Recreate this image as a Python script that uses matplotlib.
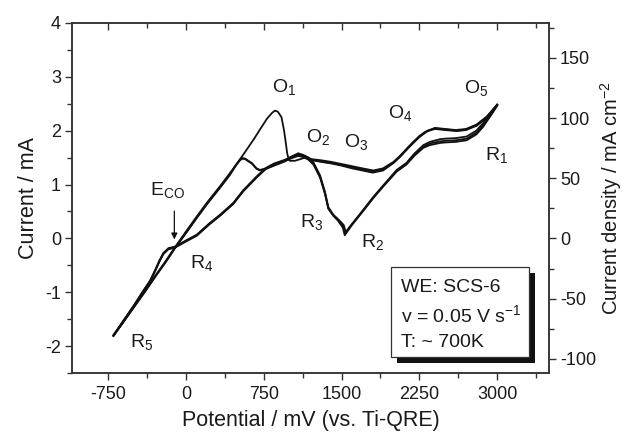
import matplotlib
matplotlib.use("Agg")
import matplotlib.pyplot as plt
from matplotlib.patches import Rectangle
from matplotlib.ticker import MultipleLocator

plt.rcParams['font.family'] = ['Liberation Sans', 'DejaVu Sans']
plt.rcParams['mathtext.default'] = 'regular'
plt.rcParams['axes.unicode_minus'] = False

# ---- data (potential in mV, current in mA) ----
E_f1 = [-700, -600, -500, -400, -300, -200, -106, 0, 100, 200, 328, 450, 550, 650, 713, 780, 830, 858, 885,
        920, 945, 960, 975, 990, 1000, 1050, 1100, 1150, 1200, 1300, 1400, 1500, 1600, 1700, 1800, 1900,
        2000, 2100, 2200, 2300, 2400, 2500, 2600, 2700, 2800, 2900, 3000]
I_f1 = [-1.80, -1.53, -1.25, -0.98, -0.70, -0.43, -0.16, 0.13, 0.40, 0.66, 0.97, 1.28, 1.55, 1.83, 2.02, 2.22,
        2.33, 2.37, 2.35, 2.25, 2.00, 1.80, 1.58, 1.46, 1.44, 1.44, 1.47, 1.50, 1.46, 1.42, 1.39, 1.35, 1.30,
        1.26, 1.22, 1.26, 1.40, 1.60, 1.80, 1.97, 2.05, 2.03, 2.01, 2.03, 2.11, 2.26, 2.48]

E_f2 = [-700, -600, -500, -400, -300, -200, -106, 0, 100, 200, 328, 420, 480, 520, 546, 570, 600, 633, 680,
        713, 771, 850, 955, 1020, 1083, 1150, 1211, 1300, 1400, 1500, 1600, 1700, 1806, 1900, 2000, 2063,
        2150, 2250, 2330, 2400, 2500, 2610, 2700, 2803, 2900, 3000]
I_f2 = [-1.80, -1.53, -1.26, -0.99, -0.71, -0.44, -0.17, 0.11, 0.38, 0.64, 0.95, 1.18, 1.36, 1.46, 1.49, 1.48,
        1.44, 1.40, 1.30, 1.27, 1.30, 1.36, 1.44, 1.52, 1.58, 1.52, 1.47, 1.45, 1.42, 1.38, 1.34, 1.30, 1.26,
        1.30, 1.42, 1.53, 1.71, 1.90, 2.00, 2.04, 2.02, 2.00, 2.02, 2.10, 2.25, 2.48]

E_f3 = [-700, -600, -500, -400, -300, -200, -106, 0, 100, 200, 328, 420, 480, 520, 546, 570, 600, 633, 680,
        713, 771, 850, 955, 1020, 1083, 1150, 1211, 1300, 1400, 1500, 1600, 1700, 1806, 1900, 2000, 2063,
        2150, 2250, 2330, 2400, 2500, 2610, 2700, 2803, 2900, 3000]
I_f3 = [-1.80, -1.54, -1.27, -1.00, -0.72, -0.45, -0.18, 0.10, 0.37, 0.63, 0.94, 1.17, 1.35, 1.45, 1.48, 1.47,
        1.43, 1.39, 1.29, 1.26, 1.29, 1.35, 1.43, 1.50, 1.55, 1.50, 1.45, 1.43, 1.40, 1.36, 1.32, 1.28, 1.24,
        1.28, 1.40, 1.51, 1.69, 1.88, 1.99, 2.03, 2.01, 1.99, 2.01, 2.09, 2.24, 2.47]

E_r1 = [3000, 2950, 2900, 2865, 2800, 2706, 2600, 2500, 2449, 2350, 2288, 2200, 2125, 2031, 1900, 1806, 1700,
        1600, 1533, 1517, 1468, 1420, 1372, 1340, 1292, 1228, 1180, 1130, 1083, 1020, 955, 850, 771, 681, 550,
        456, 328, 231, 103, 6, -60, -106, -170, -219, -257, -299, -347, -420, -500, -600, -700]
I_r1 = [2.48, 2.36, 2.24, 2.14, 2.00, 1.89, 1.86, 1.85, 1.84, 1.79, 1.73, 1.57, 1.40, 1.27, 0.98, 0.77, 0.51,
        0.26, 0.09, 0.22, 0.34, 0.43, 0.56, 0.84, 1.15, 1.39, 1.48, 1.53, 1.55, 1.50, 1.45, 1.38, 1.30, 1.14,
        0.88, 0.65, 0.43, 0.28, 0.06, -0.04, -0.11, -0.16, -0.19, -0.28, -0.42, -0.60, -0.79, -1.00, -1.24,
        -1.52, -1.80]

E_r2 = [3000, 2950, 2900, 2865, 2800, 2706, 2600, 2500, 2449, 2350, 2288, 2200, 2125, 2031, 1900, 1806, 1700,
        1600, 1540, 1520, 1470, 1420, 1372, 1340, 1292, 1228, 1180, 1130, 1083, 1020, 955, 850, 771, 681, 550,
        456, 328, 231, 103, 6, -60, -106, -170, -219, -257, -299, -347, -420, -500, -600, -700]
I_r2 = [2.47, 2.33, 2.20, 2.10, 1.96, 1.85, 1.82, 1.81, 1.80, 1.76, 1.70, 1.55, 1.38, 1.25, 0.97, 0.76, 0.50,
        0.27, 0.12, 0.25, 0.35, 0.44, 0.58, 0.86, 1.17, 1.41, 1.50, 1.55, 1.57, 1.52, 1.46, 1.39, 1.31, 1.15,
        0.89, 0.66, 0.44, 0.29, 0.07, -0.03, -0.10, -0.15, -0.18, -0.27, -0.41, -0.59, -0.78, -0.99, -1.23,
        -1.51, -1.79]

E_r3 = [3000, 2950, 2900, 2865, 2800, 2706, 2600, 2500, 2449, 2350, 2288, 2200, 2125, 2031, 1900, 1806, 1700,
        1600, 1530, 1512, 1465, 1420, 1372, 1340, 1292, 1228, 1180, 1130, 1083, 1020, 955, 850, 771, 681, 550,
        456, 328, 231, 103, 6, -60, -106, -170, -219, -257, -299, -347, -420, -500, -600, -700]
I_r3 = [2.46, 2.31, 2.17, 2.07, 1.93, 1.82, 1.79, 1.78, 1.77, 1.73, 1.68, 1.53, 1.37, 1.24, 0.96, 0.75, 0.49,
        0.25, 0.06, 0.20, 0.33, 0.42, 0.55, 0.82, 1.13, 1.37, 1.46, 1.51, 1.53, 1.49, 1.44, 1.37, 1.29, 1.13,
        0.87, 0.64, 0.42, 0.27, 0.05, -0.05, -0.12, -0.17, -0.20, -0.29, -0.43, -0.61, -0.80, -1.01, -1.25,
        -1.53, -1.81]

x_ticks = [-750, 0, 750, 1500, 2250, 3000]
y_ticks = [-2, -1, 0, 1, 2, 3, 4]
y2_ticks = [-100, -50, 0, 50, 100, 150]
mA_to_density = 44.83  # mA cm^-2 per mA

peak_labels = [("O$_1$", 829, 2.71), ("O$_2$", 1157, 1.79), ("O$_3$", 1523, 1.70), ("O$_4$", 1947, 2.24),
               ("O$_5$", 2680, 2.70), ("R$_1$", 2882, 1.455), ("R$_3$", 1099, 0.21), ("R$_2$", 1687, -0.16),
               ("R$_4$", 39, -0.55), ("R$_5$", -540, -2.02), ("E$_{CO}$", -347, 0.80)]

box_lines = ["WE: SCS-6", "v = 0.05 V s$^{-1}$", "T: ~ 700K"]

# ---- figure ----
fig = plt.figure(figsize=(6.27, 4.38), dpi=100)
ax = fig.add_axes([72/627, 1-373.3/438, 477/627, 350.6/438])
tc = '#1a1a1a'
lc = '#111111'
sc = '#333333'
for E, I in [(E_f1, I_f1), (E_f2, I_f2), (E_f3, I_f3), (E_r1, I_r1), (E_r2, I_r2), (E_r3, I_r3)]:
    ax.plot(E, I, color=lc, lw=1.3, solid_joinstyle='round')

ax.set_xlim(-1100, 3500)
ax.set_ylim(-2.5, 4)
ax.set_xticks(x_ticks)
ax.set_xticklabels([str(v) for v in x_ticks])
ax.xaxis.set_minor_locator(MultipleLocator(375))
ax.set_yticks(y_ticks)
ax.set_yticklabels([str(v) for v in y_ticks])
ax.yaxis.set_minor_locator(MultipleLocator(0.5))
ax.tick_params(axis='x', which='both', direction='out', top=False, labelsize=13, colors=sc,
               labelcolor=tc, pad=4)
ax.tick_params(axis='y', which='both', direction='out', right=False, labelsize=13, colors=sc,
               labelcolor=tc, pad=3)
ax.tick_params(which='major', length=5, width=1)
ax.tick_params(which='minor', length=3.5, width=1)
for s in ax.spines.values():
    s.set_color(sc)
    s.set_linewidth(1.1)

ax2 = ax.twinx()
ax2.set_ylim(-2.5*mA_to_density, 4*mA_to_density)
ax2.set_yticks(y2_ticks)
ax2.set_yticklabels([str(v) for v in y2_ticks])
ax2.yaxis.set_minor_locator(MultipleLocator(25))
ax2.tick_params(axis='y', which='both', direction='out', labelsize=13, colors=sc, labelcolor=tc, pad=3)
ax2.tick_params(which='major', length=5, width=1)
ax2.tick_params(which='minor', length=3.5, width=1)
for s in ax2.spines.values():
    s.set_color(sc)
    s.set_linewidth(1.1)

# top ticks inward
secx = ax.secondary_xaxis('top')
secx.set_xticks(x_ticks)
secx.xaxis.set_minor_locator(MultipleLocator(375))
secx.tick_params(which='both', direction='in', labeltop=False, colors=sc)
secx.tick_params(which='major', length=5, width=1)
secx.tick_params(which='minor', length=3.5, width=1)
secx.spines['top'].set_visible(False)

ax.set_xlabel("Potential / mV (vs. Ti-QRE)", fontsize=15.5, color=tc, labelpad=5)
ax.set_ylabel("Current / mA", fontsize=15.5, color=tc, labelpad=4)
ax2.set_ylabel("Current density / mA cm$^{-2}$", fontsize=14.5, color=tc, labelpad=1)

for txt, x, y in peak_labels:
    ax.text(x, y, txt, fontsize=14, color=tc, ha='left', va='baseline')

ax.annotate("", xy=(-113, -0.07), xytext=(-113, 0.56),
            arrowprops=dict(arrowstyle='-|>', color=lc, lw=0.9, mutation_scale=9))

# info box with shadow
bx0, bx1 = (391-72)/477, (529-72)/477
by0, by1 = (373.3-357)/350.6, (373.3-267)/350.6
dx, dy = 6/477, 6/350.6
ax.add_patch(Rectangle((bx0+dx, by0-dy), bx1-bx0, by1-by0, transform=ax.transAxes,
                       facecolor='#111111', edgecolor='none', zorder=5))
ax.add_patch(Rectangle((bx0, by0), bx1-bx0, by1-by0, transform=ax.transAxes,
                       facecolor='white', edgecolor=sc, lw=0.9, zorder=6))
for txt, yb in zip(box_lines, [292, 322, 347]):
    ax.text((400.7-72)/477, (373.3-yb)/350.6, txt, transform=ax.transAxes, fontsize=14,
            color=tc, ha='left', va='baseline', zorder=7)

fig.savefig("out.png", dpi=100)
